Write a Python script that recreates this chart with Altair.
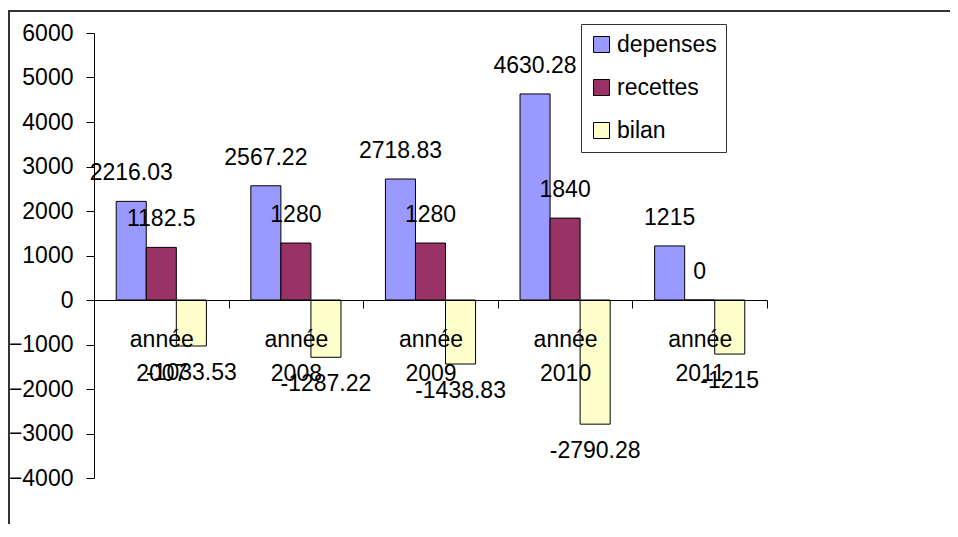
import altair as alt
import pandas as pd

years = ["année 2007", "année 2008", "année 2009", "année 2010", "année 2011"]
series = ["depenses", "recettes", "bilan"]
depenses = [2216.03, 2567.22, 2718.83, 4630.28, 1215]
recettes = [1182.5, 1280, 1280, 1840, 0]
bilan = [-1033.53, -1287.22, -1438.83, -2790.28, -1215]
colors = ["#9999FF", "#993366", "#FFFFCC"]
y_ticks = [-4000, -3000, -2000, -1000, 0, 1000, 2000, 3000, 4000, 5000, 6000]

rows = []
for i, yr in enumerate(years):
    for s, vals in zip(series, [depenses, recettes, bilan]):
        rows.append({"year": yr, "series": s, "value": vals[i], "label": f"{vals[i]:g}"})
df = pd.DataFrame(rows)

FONT = "Liberation Sans"
FS = 23

x_enc = alt.X("year:N", sort=years,
              scale=alt.Scale(paddingInner=0, paddingOuter=0),
              axis=alt.Axis(title=None, labelAngle=0, labelExpr="split(datum.label, ' ')",
                            labelFont=FONT, labelFontSize=FS, labelColor="black",
                            labelLineHeight=34, labelPadding=20, tickBand="extent",
                            tickSize=8, tickColor="black", domainColor="black",
                            offset=-178, zindex=1, labelOverlap=False, labelLimit=500))
xo_enc = alt.XOffset("series:N", sort=series,
                     scale=alt.Scale(domain=series, paddingInner=0, paddingOuter=0.74))
y_scale = alt.Scale(domain=[-4000, 6000], nice=False, zero=False)

bars = alt.Chart(df).mark_bar(stroke="black", strokeWidth=1).encode(
    x=x_enc,
    xOffset=xo_enc,
    y=alt.Y("value:Q", scale=y_scale,
            axis=alt.Axis(title=None, values=y_ticks, grid=False, format="d", labelFont=FONT,
                          labelFontSize=FS, labelColor="black", tickSize=8, tickColor="black",
                          domainColor="black", labelPadding=13)),
    color=alt.Color("series:N", sort=series,
                    scale=alt.Scale(domain=series, range=colors),
                    legend=alt.Legend(title=None, orient="none", legendX=487, legendY=-9,
                                      symbolType="square", symbolSize=256,
                                      symbolStrokeColor="black", symbolStrokeWidth=1,
                                      labelFont=FONT, labelFontSize=FS, labelColor="black",
                                      labelOffset=4, rowPadding=19, padding=9,
                                      strokeColor="#333", fillColor="white")),
)

pos_text = alt.Chart(df).transform_filter("datum.value >= 0").mark_text(
    font=FONT, fontSize=FS, color="black", baseline="alphabetic", dy=-21
).encode(x=alt.X("year:N", sort=years), xOffset=alt.XOffset("series:N", sort=series),
         y=alt.Y("value:Q", scale=y_scale), text="label:N")

neg_text = alt.Chart(df).transform_filter("datum.value < 0").mark_text(
    font=FONT, fontSize=FS, color="black", baseline="alphabetic", dy=34
).encode(x=alt.X("year:N", sort=years), xOffset=alt.XOffset("series:N", sort=series),
         y=alt.Y("value:Q", scale=y_scale), text="label:N")

frame_data = alt.Data(values=[{"f": 1}])
frame_left = alt.Chart(frame_data).mark_rule(color="#333333", strokeWidth=2).encode(
    x=alt.value(-85), y=alt.value(-23), y2=alt.value(2000))
frame_top = alt.Chart(frame_data).mark_rule(color="#333333", strokeWidth=2).encode(
    x=alt.value(-86), x2=alt.value(2000), y=alt.value(-22))

chart = alt.layer(frame_left, frame_top, bars, pos_text, neg_text).properties(
    width=673, height=445,
    padding={"left": 86, "top": 25, "right": 183, "bottom": 46},
    autosize=alt.AutoSizeParams(type="none"),
).configure_view(stroke=None)

chart.save("out.html", embed_options={"renderer": "svg", "actions": False})
